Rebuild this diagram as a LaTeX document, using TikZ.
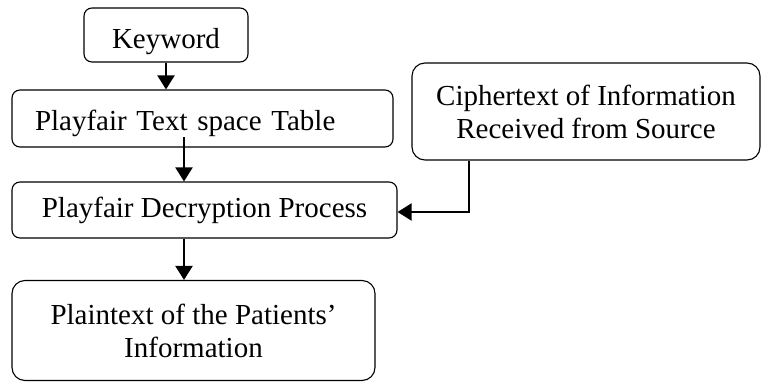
\documentclass[tikz,border=0pt]{standalone}
\usepackage{fontspec}
\setmainfont{Liberation Serif}
\usetikzlibrary{arrows.meta}
\begin{document}
\begin{tikzpicture}[x=1pt,y=-1pt,
  box/.style={draw, line width=1.1pt, rounded corners=8pt, inner sep=0pt, align=center,
    font=\fontsize{29}{33}\selectfont},
  conn/.style={line width=2pt, -{Triangle[length=14pt,width=17pt]}}]
\useasboundingbox (0,0) rectangle (761,383);
\node[box, minimum width=164pt, minimum height=54pt, text height=26pt, text depth=0pt] (kw) at (166,35) {Keyword};
\node[box, minimum width=381pt, minimum height=57pt, text width=335pt, align=left, text height=23pt, text depth=0pt] (tbl) at (202.5,118.5) {Playfair Text space Table};
\node[box, minimum width=385pt, minimum height=56pt] (dec) at (204.5,210) {Playfair Decryption Process};
\node[box, rounded corners=13pt, minimum width=363pt, minimum height=100pt] (pt) at (193.5,330.5) {Plaintext of the Patients’\\Information};
\node[box, rounded corners=13pt, minimum width=348pt, minimum height=97pt] (ct) at (586,111.5) {Ciphertext of Information\\Received from Source};
\coordinate (t1) at (184,137);
\draw[conn] (kw.south) -- (kw.south |- tbl.north);
\draw[conn] (t1) -- (t1 |- dec.north);
\draw[conn] (t1 |- dec.south) -- (t1 |- pt.north);
\draw[conn] (469,0 |- ct.south) -- (469,212) -- (469,212 -| dec.east);
\end{tikzpicture}
\end{document}
